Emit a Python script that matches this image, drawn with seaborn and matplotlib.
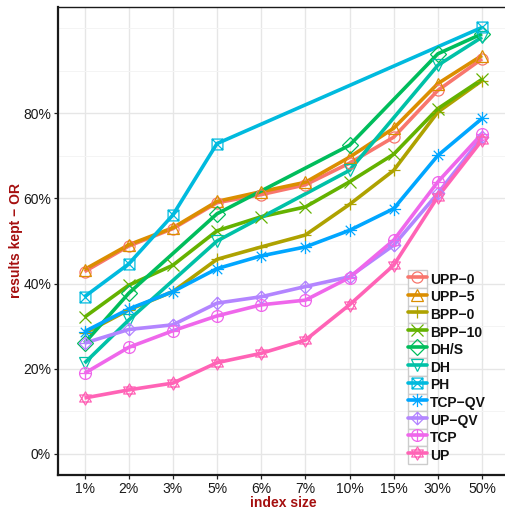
import numpy as np
import pandas as pd
import matplotlib
matplotlib.use("Agg")
import matplotlib.pyplot as plt
import seaborn as sns
from matplotlib.path import Path
from matplotlib.lines import Line2D
from matplotlib.patches import Rectangle
from matplotlib.legend_handler import HandlerLine2D
from matplotlib.ticker import FixedLocator

# ---------------- data ----------------
categories = ['1%', '2%', '3%', '5%', '6%', '7%', '10%', '15%', '30%', '50%']
series_names = ['UPP−0', 'UPP−5', 'BPP−0', 'BPP−10', 'DH/S', 'DH', 'PH',
                'TCP−QV', 'UP−QV', 'TCP', 'UP']
N = None
upp0 = [42.8, 48.8, 52.9, 59.0, 60.9, 63.2, 68.3, 74.4, 85.4, 92.8]
upp5 = [43.3, 49.1, 53.1, 59.3, 61.6, 63.8, 69.7, 76.5, 87.0, 93.6]
bpp0 = [28.3, 33.8, 38.1, 45.7, 48.6, 51.4, 58.6, 66.6, 80.3, 87.7]
bpp10 = [32.1, 39.6, 44.3, 52.4, 55.7, 58.0, 63.9, 70.4, 81.1, 88.0]
dhs = [26.0, 37.7, N, 56.4, N, N, 72.5, N, 94.0, 98.7]
dh = [21.3, 31.4, N, 50.0, N, N, 66.6, N, 91.3, 97.9]
ph = [36.9, 44.6, 56.1, 72.9, N, N, N, N, N, 100.2]
tcpqv = [28.7, 34.0, 38.1, 43.5, 46.5, 48.6, 52.5, 57.6, 70.1, 78.8]
upqv = [26.0, 29.2, 30.3, 35.4, 36.9, 39.3, 41.6, 49.0, 61.2, 74.4]
tcp = [18.9, 25.0, 28.9, 32.4, 35.0, 36.1, 41.4, 50.2, 63.9, 75.2]
up = [13.1, 15.0, 16.6, 21.4, 23.6, 26.7, 35.0, 44.3, 60.4, 73.7]
all_values = [upp0, upp5, bpp0, bpp10, dhs, dh, ph, tcpqv, upqv, tcp, up]

colors = ["#F8766D", "#DB8E00", "#AEA200", "#64B200", "#00BD5C", "#00C1A7",
          "#00BADE", "#00A6FF", "#B385FF", "#EF67EB", "#FF63B6"]

rows = []
for name, vals in zip(series_names, all_values):
    for i, (c, v) in enumerate(zip(categories, vals)):
        if v is not None:
            rows.append({"method": name, "size": c, "pos": i, "kept": v})
df = pd.DataFrame(rows)

# ---------------- markers (ggplot shapes 1..11) ----------------
M, L = Path.MOVETO, Path.LINETO
def lines_path(segs):
    verts, codes = [], []
    for (a, b) in segs:
        verts += [a, b]; codes += [M, L]
    return Path(verts, codes)

r = 1.0
square = Path([(-r, -r), (r, -r), (r, r), (-r, r), (-r, -r)], [M, L, L, L, Path.CLOSEPOLY])
diamond = Path([(0, -1.3), (1.3, 0), (0, 1.3), (-1.3, 0), (0, -1.3)], [M, L, L, L, Path.CLOSEPOLY])
circle = Path.unit_circle()
tri_up = Path([(-1, -0.6), (1, -0.6), (0, 1.13), (-1, -0.6)], [M, L, L, Path.CLOSEPOLY])
tri_dn = Path([(-1, 0.6), (1, 0.6), (0, -1.13), (-1, 0.6)], [M, L, L, Path.CLOSEPOLY])

sq_x = Path.make_compound_path(square, lines_path([((-r, -r), (r, r)), ((-r, r), (r, -r))]))
asterisk = lines_path([((-1, 0), (1, 0)), ((0, -1), (0, 1)),
                       ((-0.72, -0.72), (0.72, 0.72)), ((-0.72, 0.72), (0.72, -0.72))])
dia_plus = Path.make_compound_path(diamond, lines_path([((-1.3, 0), (1.3, 0)), ((0, -1.3), (0, 1.3))]))
circ_plus = Path.make_compound_path(circle, lines_path([((-1, 0), (1, 0)), ((0, -1), (0, 1))]))
star_david = Path.make_compound_path(tri_up, tri_dn)

marker_list = ['o', '^', '+', 'x', 'D', 'v', sq_x, asterisk, dia_plus, circ_plus, star_david]
marker_sizes = [8.0, 8.5, 9.0, 8.0, 7.8, 8.5, 7.8, 9.5, 9.0, 8.5, 9.5]

# ---------------- figure ----------------
sns.set_theme(style="white")
plt.rcParams['font.family'] = ['Liberation Sans', 'DejaVu Sans']

fig = plt.figure(figsize=(5.05, 5.13), dpi=100)
ax = fig.add_axes([58 / 505, 38 / 513, 450.5 / 505, 468 / 513])

palette = dict(zip(series_names, colors))
sns.lineplot(data=df, x="pos", y="kept", hue="method", hue_order=series_names,
             palette=palette, linewidth=2.6, legend=False, ax=ax, sort=True,
             estimator=None, zorder=3)
for ln in ax.lines:
    ln.set_solid_capstyle('butt')

# markers drawn on top of all lines, per series through the same scales
for name, mk, ms in zip(series_names, marker_list, marker_sizes):
    sub = df[df["method"] == name]
    ax.plot(sub["pos"], sub["kept"], linestyle='none', marker=mk, markersize=ms,
            markerfacecolor='none', markeredgecolor=palette[name],
            markeredgewidth=0.9, zorder=4)

ax.set_xlim(-0.6, len(categories) - 0.4)
ax.set_ylim(-5, 105)
ax.set_xticks(range(len(categories)))
ax.set_xticklabels(categories)
ax.set_yticks([0, 20, 40, 60, 80])
ax.set_yticklabels(['0%', '20%', '40%', '60%', '80%'])
ax.yaxis.set_minor_locator(FixedLocator([10, 30, 50, 70, 90, 100]))

ax.grid(True, which='major', axis='both', color='#E6E6E6', linewidth=1.0, zorder=0)
ax.grid(True, which='minor', axis='y', color='#F4F4F4', linewidth=0.7, zorder=0)
ax.set_axisbelow(True)

ax.tick_params(axis='both', which='major', length=3, width=0.9, color='#222222',
               labelsize=10, labelcolor='#1a1a1a', pad=2, bottom=True, left=True)
ax.tick_params(axis='both', which='minor', length=0)

for s in ['left', 'bottom']:
    ax.spines[s].set_linewidth(1.6)
    ax.spines[s].set_color('#1a1a1a')
ax.spines['top'].set_linewidth(1.0)
ax.spines['top'].set_color('#1a1a1a')
ax.spines['right'].set_visible(False)

title_color = '#A50F0F'
ax.set_xlabel('index size', fontsize=10, fontweight='bold', color=title_color, labelpad=0)
ax.set_ylabel('results kept − OR', fontsize=10, fontweight='bold', color=title_color, labelpad=0)


class KeyBoxHandler(HandlerLine2D):
    def create_artists(self, legend, orig_handle, xdescent, ydescent, width, height,
                       fontsize, trans):
        rect = Rectangle((-xdescent, -ydescent), width, height, facecolor='white',
                         edgecolor='#CCCCCC', linewidth=1.0, transform=trans)
        arts = super().create_artists(legend, orig_handle, xdescent, ydescent,
                                      width, height, fontsize, trans)
        return [rect] + list(arts)


handles = [Line2D([], [], color=palette[n], linewidth=2.6, marker=mk, markersize=ms,
                  markerfacecolor='none', markeredgecolor=palette[n], markeredgewidth=0.9)
           for n, mk, ms in zip(series_names, marker_list, marker_sizes)]
fs = 10
key_h_pt = 17.6 / 1.389
hh = (key_h_pt / fs - 0.245) / 0.65
leg = ax.legend(handles, series_names, loc='lower left',
                bbox_to_anchor=(408 / 505, 49 / 513), bbox_transform=fig.transFigure,
                frameon=False, numpoints=1, prop={'weight': 'bold', 'size': fs},
                handlelength=19 / (fs * 1.389), handleheight=hh,
                handletextpad=0.22, labelspacing=0.0, borderpad=0, borderaxespad=0,
                handler_map={Line2D: KeyBoxHandler()})
for t in leg.get_texts():
    t.set_color('#111111')

fig.savefig('out.png', dpi=100, facecolor='white')
